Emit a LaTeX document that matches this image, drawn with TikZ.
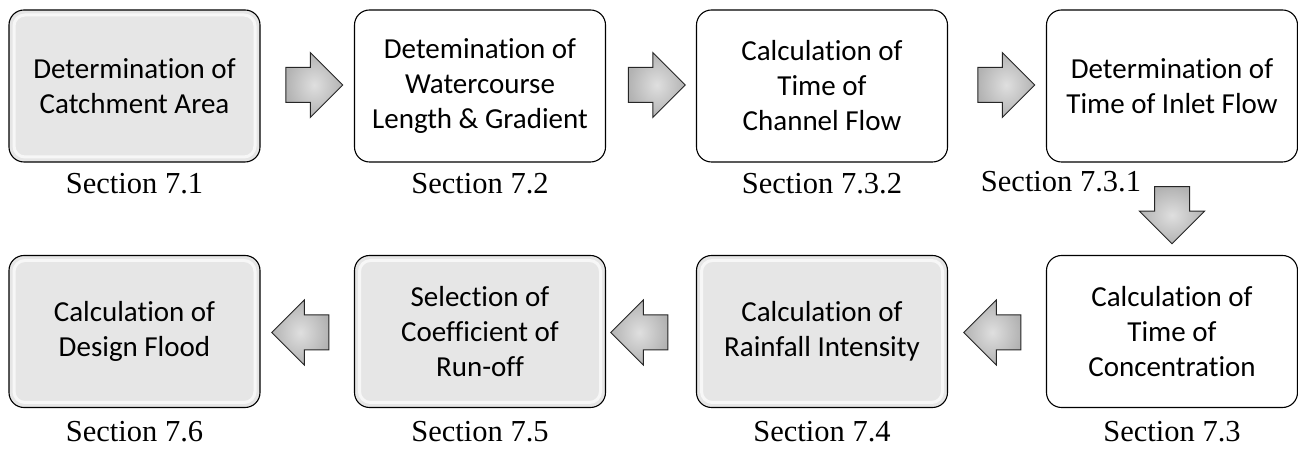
\documentclass[tikz,border=0pt]{standalone}
\usepackage{fontspec}
\setmainfont{Liberation Serif}
\newfontfamily\boxfont[Ligatures=NoCommon]{Carlito}
\usetikzlibrary{shapes.arrows}
\definecolor{boxgray}{HTML}{E6E6E6}
\tikzset{
  flowbox/.style={draw=black, line width=1.1pt, rounded corners=15pt, minimum width=251pt, minimum height=152pt, align=center, font=\boxfont\fontsize{29}{35}\selectfont, inner sep=0pt},
  plainbox/.style={flowbox, fill=white},
  shadebox/.style={flowbox, fill=boxgray, path picture={\draw[white, opacity=0.7, line width=3pt, rounded corners=11pt] ([shift={(5pt,5pt)}]path picture bounding box.south west) rectangle ([shift={(-5pt,-5pt)}]path picture bounding box.north east);}},
  seclabel/.style={font=\fontsize{30.5}{34}\selectfont, inner sep=0pt},
  bigarrow/.style={single arrow, draw=black!85, line width=1pt, single arrow head extend=15pt, minimum height=57pt, inner color=gray!25, outer color=gray!60},
  harrow/.style={bigarrow, inner xsep=0pt, inner ysep=17pt},
  varrow/.style={bigarrow, inner xsep=17pt, inner ysep=0pt, shape border rotate=270}
}
\begin{document}
\begin{tikzpicture}[x=1pt,y=1pt]
\useasboundingbox (0,0) rectangle (1298,452);
% top row
\node[shadebox] (b1) at (134.5,366) {Determination of\\Catchment Area};
\node[plainbox] (b2) at (480,366) {Detemination of\\Watercourse\\Length \& Gradient};
\node[plainbox] (b3) at (822,366) {Calculation of\\Time of\\Channel Flow};
\node[plainbox] (b4) at (1172,366) {Determination of\\Time of Inlet Flow};
% bottom row
\node[plainbox] (b5) at (1172,120.5) {Calculation of\\Time of\\Concentration};
\node[shadebox] (b6) at (822,120.5) {Calculation of\\Rainfall Intensity};
\node[shadebox] (b7) at (480,120.5) {Selection of\\Coefficient of\\Run-off};
\node[shadebox] (b8) at (134.5,120.5) {Calculation of\\Design Flood};
% labels
\node[seclabel] (l1) at (134.5,268) {Section 7.1};
\node[seclabel] (l2) at (480,268) {Section 7.2};
\node[seclabel] (l3) at (822,268) {Section 7.3.2};
\node[seclabel] (l4) at (1061,270) {Section 7.3.1};
\node[seclabel] (l5) at (1172,20) {Section 7.3};
\node[seclabel] (l6) at (822,20) {Section 7.4};
\node[seclabel] (l7) at (480,20) {Section 7.5};
\node[seclabel] (l8) at (134.5,20) {Section 7.6};
% arrows
\node[harrow] (a1) at (305.5,367) {};
\node[harrow] (a2) at (648,367) {};
\node[harrow] (a3) at (997.5,367) {};
\node[varrow] (a4) at (1172,245.5) {};
\node[harrow, shape border rotate=180] (a5) at (1001,119.5) {};
\node[harrow, shape border rotate=180] (a6) at (648,119.5) {};
\node[harrow, shape border rotate=180] (a7) at (309,119.5) {};
\end{tikzpicture}
\end{document}
